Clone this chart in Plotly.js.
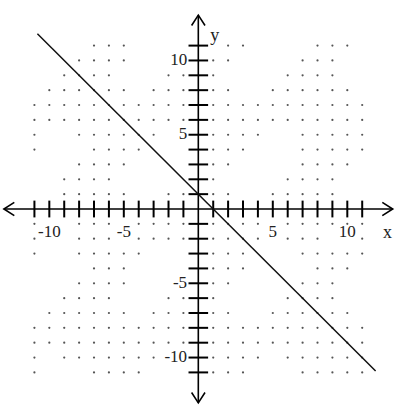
<!DOCTYPE html>
<html>
<head>
<meta charset="utf-8">
<script src="https://cdn.plot.ly/plotly-3.0.1.min.js"></script>
<style>
  html, body { margin: 0; padding: 0; background: #fff; }
  #graph { width: 406px; height: 414px; }
</style>
</head>
<body>
<div id="graph"></div>
<script>
// values
var tickVals = [-11, -10, -9, -8, -7, -6, -5, -4, -3, -2, -1, 1, 2, 3, 4, 5, 6, 7, 8, 9, 10, 11];
var labelVals = [-10, -5, 5, 10];
var labelText = ['-10', '-5', '5', '10'];
var lineX = [-10.8, 11.9];   // y = -x + 1
var lineY = [11.8, -10.9];
var axisEnd = 13.05;

// grid dots that show in the picture, one list per row
var dotRowY = [11, 10, 9, 8, 7, 6, 5, 4, 3, 2, 1, -1, -2, -3, -4, -5, -6, -7, -8, -9, -10, -11];
var dotRowX = [
  [-7, -6, -5, 2, 3, 8, 9, 10],
  [-8, -7, -6, -5, 1, 2, 7, 8, 9],
  [-9, -8, -7, -6, -2, -1, 1, 6, 7, 8, 9],
  [-10, -9, -8, -7, -6, -5, -3, -2, -1, 1, 2, 5, 6, 7, 8, 9, 10],
  [-11, -10, -9, -8, -7, -6, -5, -4, -3, -2, -1, 1, 2, 3, 4, 5, 6, 7, 8, 9, 10, 11],
  [-11, -10, -9, -8, -7, -6, -5, -4, -3, -2, -1, 1, 2, 3, 4, 5, 6, 7, 8, 9, 10, 11],
  [-11, -8, -7, -6, -5, -4, -3, 1, 2, 3, 4, 7, 8, 9, 10, 11],
  [-11, -7, -6, -5, -4, 1, 2, 3, 7, 8, 9, 10, 11],
  [-8, -7, -6, -5, 1, 2, 7, 8, 9, 10],
  [-9, -8, -7, -6, 1, 6, 7, 8, 9],
  [-9, -8, -7, -6, -5, -2, -1, 1, 2, 5, 6, 7, 8, 9],
  [-11, -8, -7, -6, -4, -3, -2, -1, 1, 2, 3, 4, 6, 7, 8, 9, 10, 11],
  [-11, -8, -7, -6, -4, -3, -2, -1, 1, 2, 3, 4, 6, 7, 8, 11],
  [-11, -8, -7, -6, -5, -4, 1, 2, 3, 7, 8, 9, 10, 11],
  [-7, -6, -5, 1, 2, 3, 8, 9, 10],
  [-8, -7, -6, -5, 1, 2, 7, 8, 9],
  [-9, -8, -7, -6, -2, -1, 1, 6, 7, 8, 9],
  [-10, -9, -8, -7, -6, -5, -3, -2, -1, 1, 2, 5, 6, 7, 8, 9, 10],
  [-11, -10, -9, -8, -7, -6, -5, -4, -3, -2, -1, 1, 2, 3, 4, 5, 6, 7, 8, 9, 10, 11],
  [-11, -10, -9, -8, -7, -6, -5, -4, -3, -2, -1, 1, 2, 3, 4, 5, 6, 7, 8, 9, 10, 11],
  [-11, -9, -8, -7, -6, -5, -4, -3, 1, 2, 3, 4, 6, 7, 8, 9, 10, 11],
  [-11, -7, -6, -5, -4, 1, 2, 3, 7, 8, 9, 10, 11]
];

var serif = 'Liberation Serif, Times New Roman, serif';

var dotX = [], dotY = [];
dotRowY.forEach(function (gy, i) {
  dotRowX[i].forEach(function (gx) {
    dotX.push(gx); dotY.push(gy);
  });
});

var dots = {
  x: dotX, y: dotY, mode: 'markers', type: 'scatter', hoverinfo: 'skip',
  marker: { size: 2.2, color: '#555' }
};

// axes with open arrowheads
var xAxisLine = {
  x: [-axisEnd, axisEnd], y: [0, 0], mode: 'lines', hoverinfo: 'skip',
  line: { color: '#000', width: 1.6 }
};
var yAxisLine = {
  x: [0, 0], y: [-axisEnd, axisEnd], mode: 'lines', hoverinfo: 'skip',
  line: { color: '#000', width: 1.6 }
};
var ah = 0.7, aw = 0.45;
var arrows = {
  x: [-axisEnd + ah, -axisEnd, -axisEnd + ah, null,
      axisEnd - ah, axisEnd, axisEnd - ah, null,
      -aw, 0, aw, null,
      -aw, 0, aw],
  y: [aw, 0, -aw, null,
      aw, 0, -aw, null,
      axisEnd - ah, axisEnd, axisEnd - ah, null,
      -axisEnd + ah, -axisEnd, -axisEnd + ah],
  mode: 'lines', hoverinfo: 'skip', line: { color: '#000', width: 1.6 }
};

// tick marks crossing the axes
var xTicks = {
  x: tickVals, y: tickVals.map(function () { return 0; }),
  mode: 'markers', hoverinfo: 'skip',
  marker: { symbol: 'line-ns', size: 12, line: { color: '#000', width: 2 } }
};
var yTicks = {
  x: tickVals.map(function () { return 0; }), y: tickVals,
  mode: 'markers', hoverinfo: 'skip',
  marker: { symbol: 'line-ew', size: 14, line: { color: '#000', width: 2 } }
};

// tick labels
var xLabels = {
  x: labelVals, y: labelVals.map(function () { return -1.62; }),
  mode: 'text', text: labelText, textposition: 'middle center', hoverinfo: 'skip',
  textfont: { family: serif, size: 17, color: '#222' }
};
var yLabels = {
  x: labelVals.map(function () { return -0.75; }), y: labelVals,
  mode: 'text', text: labelText, textposition: 'middle left', hoverinfo: 'skip',
  textfont: { family: serif, size: 17, color: '#222' }
};
var axisNames = {
  x: [12.7, 1.1], y: [-1.62, 11.6],
  mode: 'text', text: ['x', 'y'], textposition: 'middle center', hoverinfo: 'skip',
  textfont: { family: serif, size: 18, color: '#222' }
};

// the graphed line
var graphLine = {
  x: lineX, y: lineY, mode: 'lines', hoverinfo: 'skip',
  line: { color: '#111', width: 1.5 }
};

var data = [dots, xAxisLine, yAxisLine, arrows, xTicks, yTicks, graphLine, xLabels, yLabels, axisNames];

var layout = {
  width: 406, height: 414,
  margin: { l: 0, r: 0, t: 0, b: 0 },
  showlegend: false,
  paper_bgcolor: '#fff', plot_bgcolor: '#fff',
  xaxis: { range: [-13.31, 13.94], visible: false, fixedrange: true },
  yaxis: { range: [-13.8, 14.07], visible: false, fixedrange: true }
};

Plotly.newPlot('graph', data, layout, { displayModeBar: false, staticPlot: true });
</script>
</body>
</html>
